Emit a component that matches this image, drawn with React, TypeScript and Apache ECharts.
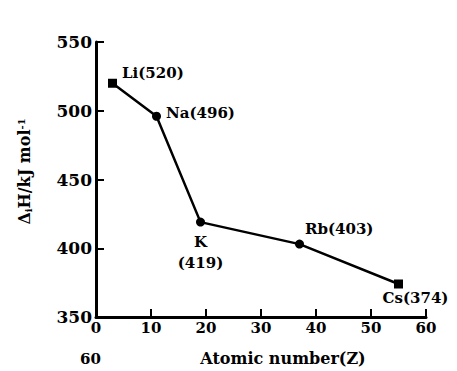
import React, { useEffect, useRef } from "react";
import * as echarts from "echarts";

const elements = ["Li", "Na", "K", "Rb", "Cs"];
const atomicNumbers = [3, 11, 19, 37, 55];
const enthalpies = [520, 496, 419, 403, 374];
const xTicks = [0, 10, 20, 30, 40, 50, 60];
const yTicks = [350, 400, 450, 500, 550];

const FONT = "DejaVu Serif";

export default function App() {
  const ref = useRef<HTMLDivElement>(null);
  useEffect(() => {
    if (!ref.current) return;
    const chart = echarts.init(ref.current, null, { renderer: "svg" });
    const one = (p: any) => `${elements[p.dataIndex]}(${enthalpies[p.dataIndex]})`;
    const labelPos: any[] = [
      { position: "right", offset: [0, -10], formatter: one },
      { position: "right", offset: [0, -3], formatter: one },
      { position: "bottom", offset: [0, 0], lineHeight: 21, formatter: (p: any) => `${elements[p.dataIndex]}\n(${enthalpies[p.dataIndex]})` },
      { position: "right", offset: [-4, -15], formatter: one },
      { position: "bottom", offset: [17, -3], formatter: one },
    ];
    const symbols = ["rect", "circle", "circle", "circle", "rect"];
    const data = atomicNumbers.map((x, i) => ({
      value: [x, enthalpies[i]],
      symbol: symbols[i],
      symbolSize: 9,
      label: { show: true, ...labelPos[i] },
    }));
    chart.setOption({
      animation: false,
      textStyle: { fontFamily: FONT },
      grid: { left: 96, right: 31, top: 42, bottom: 46, containLabel: false },
      xAxis: {
        type: "value",
        min: xTicks[0],
        max: xTicks[xTicks.length - 1],
        interval: 10,
        name: "Atomic number(Z)",
        nameLocation: "middle",
        nameGap: 33,
        nameTextStyle: { fontFamily: FONT, fontSize: 16, fontWeight: "bold", color: "#000", padding: [0, 0, 0, 44] },
        axisLine: { show: true, lineStyle: { color: "#000", width: 3 } },
        axisTick: { show: true, inside: true, length: 8, lineStyle: { color: "#000", width: 2 } },
        axisLabel: { fontFamily: FONT, fontSize: 15, fontWeight: "bold", color: "#000", margin: 3 },
        splitLine: { show: false },
      },
      yAxis: {
        type: "value",
        min: yTicks[0],
        max: yTicks[yTicks.length - 1],
        interval: 50,
        name: "{a|Δ}{s|i}{a|H/kJ mol}{p|-1}",
        nameLocation: "middle",
        nameGap: 63,
        nameRotate: 90,
        nameTextStyle: {
          padding: [0, 0, 0, 16],
          rich: {
            a: { fontFamily: FONT, fontSize: 16, fontWeight: "bold", color: "#000" },
            s: { fontFamily: FONT, fontSize: 10, fontWeight: "bold", color: "#000", verticalAlign: "bottom", padding: [7, 0, 0, 0] },
            p: { fontFamily: FONT, fontSize: 10, fontWeight: "bold", color: "#000", verticalAlign: "top", padding: [0, 0, 7, 0] },
          },
        },
        axisLine: { show: true, lineStyle: { color: "#000", width: 3 } },
        axisTick: { show: true, inside: true, length: 8, lineStyle: { color: "#000", width: 2 } },
        axisLabel: { fontFamily: FONT, fontSize: 17, fontWeight: "bold", color: "#000", margin: 4 },
        splitLine: { show: false },
      },
      graphic: [
        {
          type: "text",
          left: 80,
          top: 351,
          style: { text: "60", fontFamily: FONT, fontSize: 15, fontWeight: "bold", fill: "#000" },
        },
      ],
      series: [
        {
          type: "line",
          data,
          lineStyle: { color: "#000", width: 2.5 },
          itemStyle: { color: "#000" },
          label: { fontFamily: FONT, fontSize: 15, fontWeight: "bold", color: "#000" },
        },
      ],
    });
    return () => chart.dispose();
  }, []);
  return <div ref={ref} style={{ position: "fixed", left: 0, top: 0, width: 457, height: 371, background: "#fff" }} />;
}
